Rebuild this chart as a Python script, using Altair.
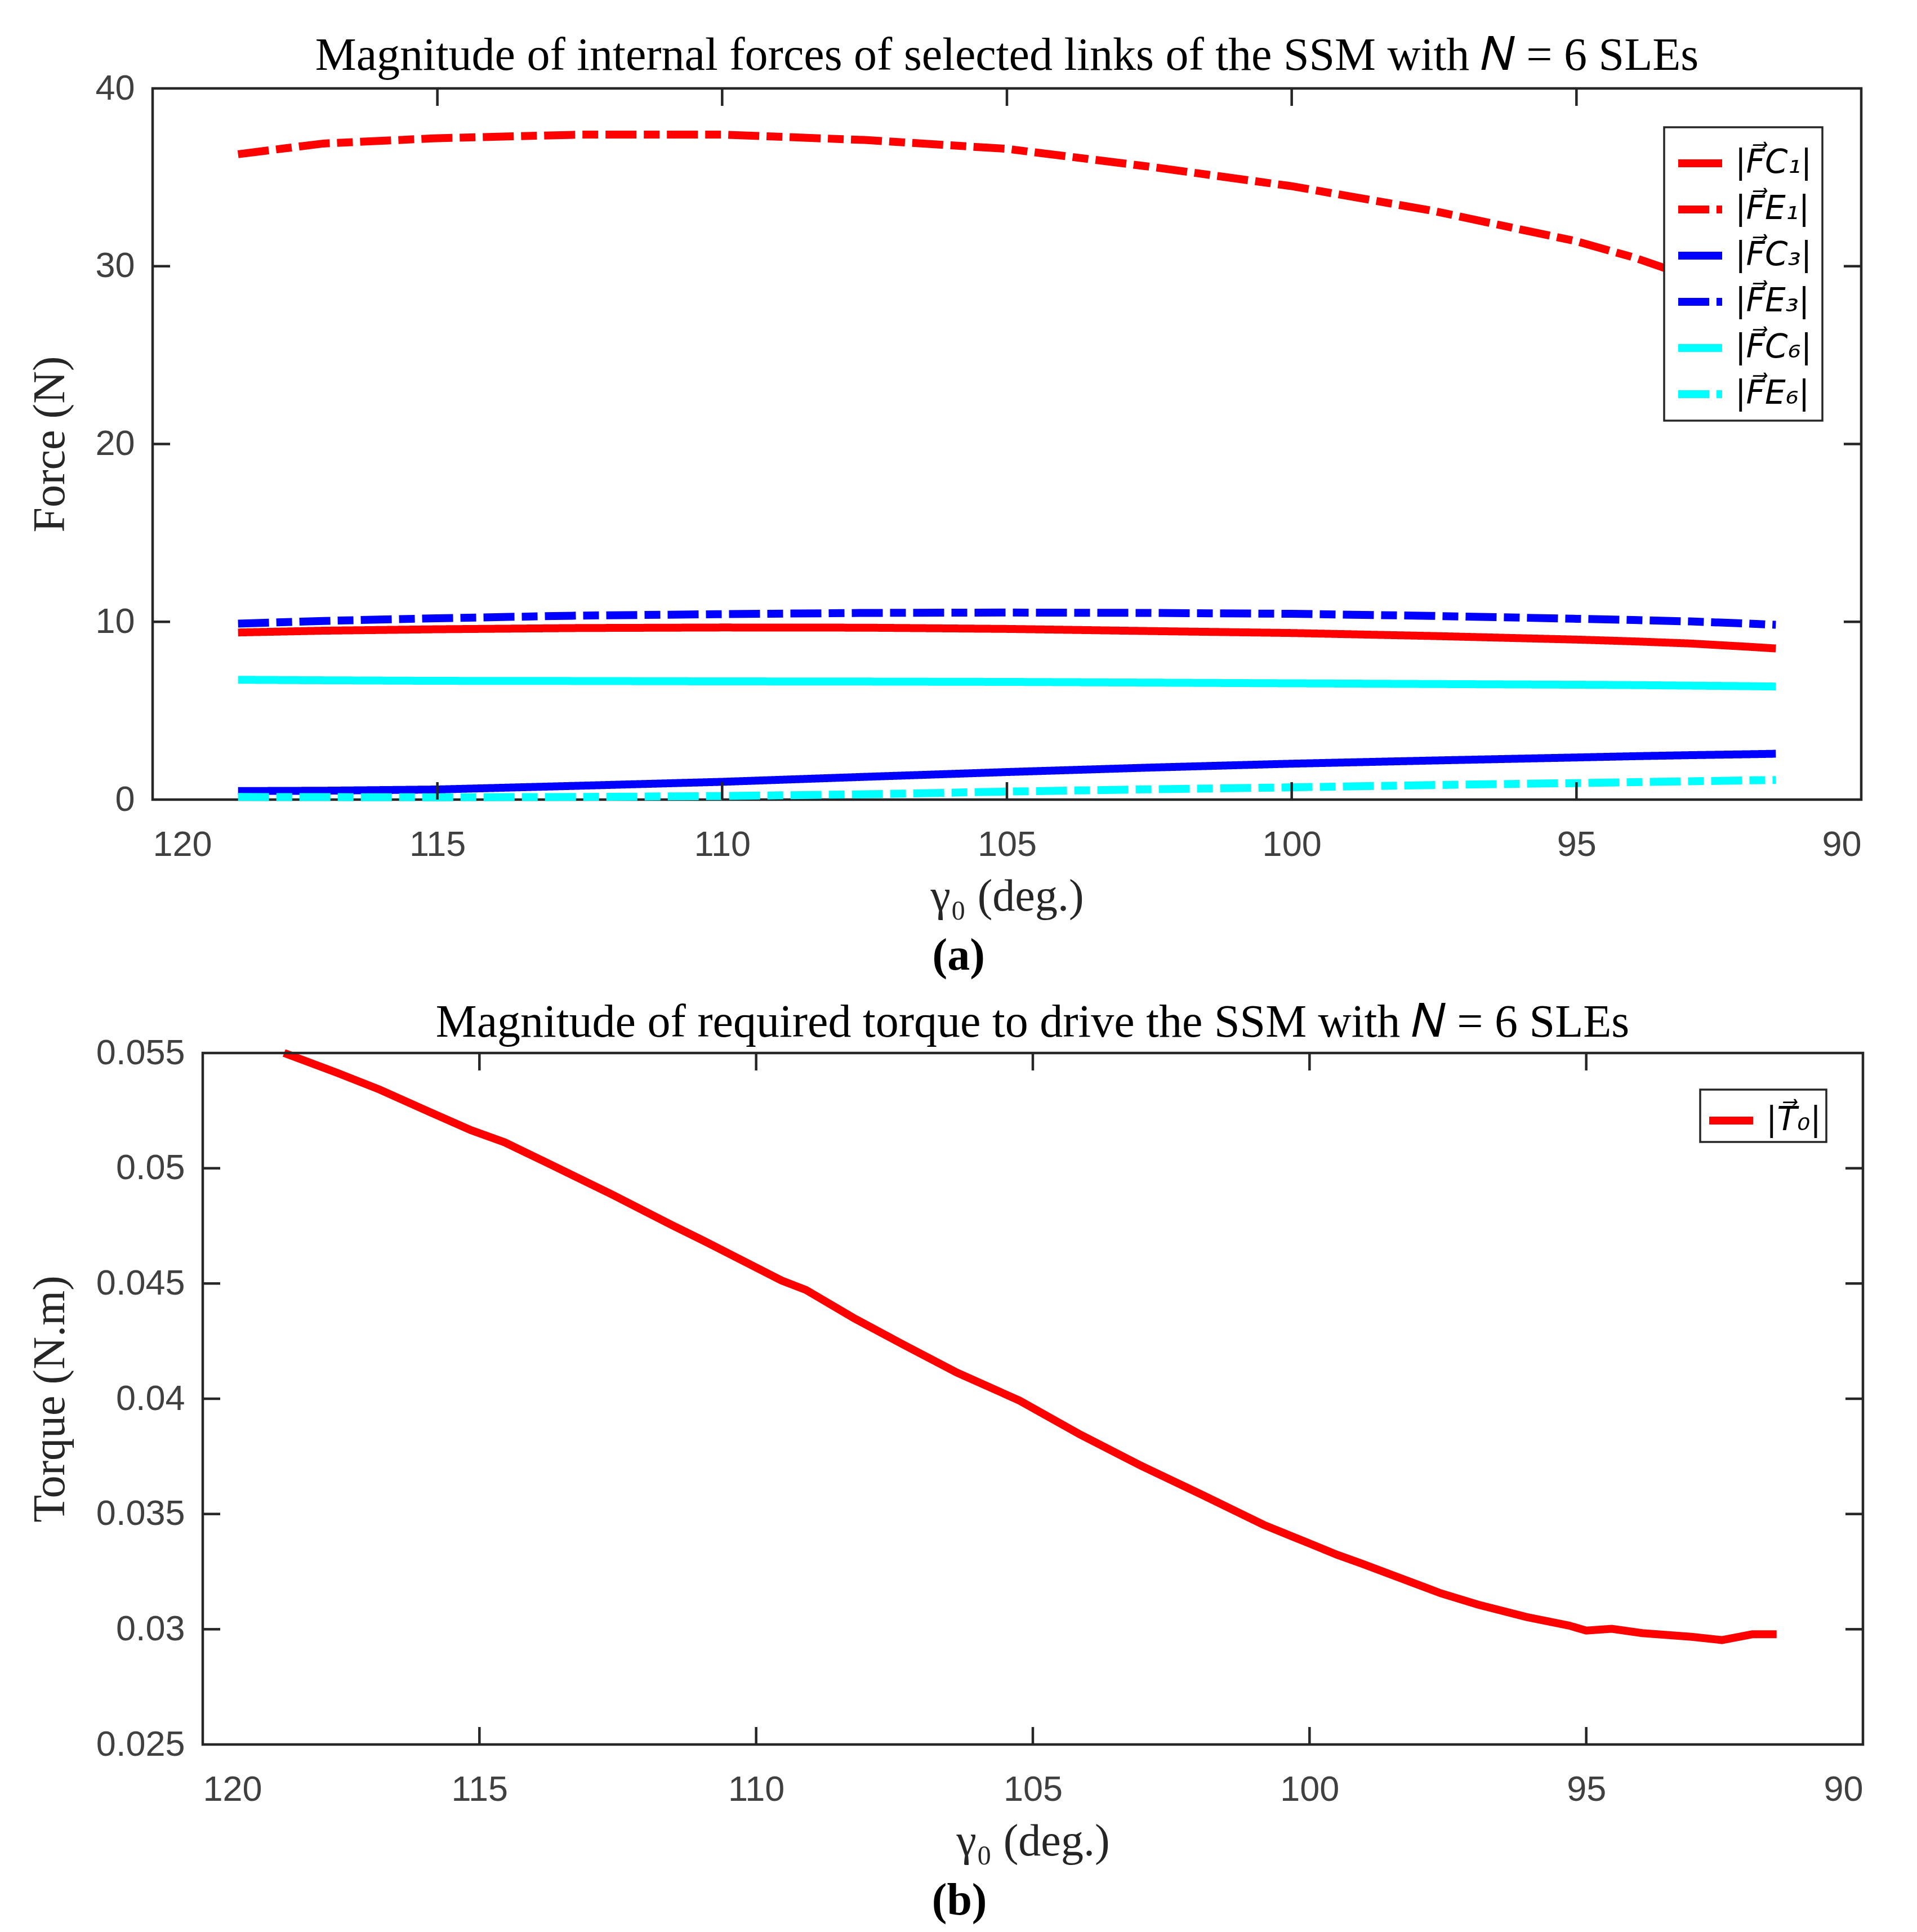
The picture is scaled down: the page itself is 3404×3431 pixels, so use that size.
import altair as alt
import pandas as pd

# ---------------- data ----------------
series_names = ["|F⃗C₁|", "|F⃗E₁|", "|F⃗C₃|", "|F⃗E₃|", "|F⃗C₆|", "|F⃗E₆|"]
series_colors = ["#ff0000", "#ff0000", "#0000ff", "#0000ff", "#00ffff", "#00ffff"]
series_dashes = [[1, 0], [55, 13, 28, 13], [1, 0], [55, 13, 28, 13], [1, 0], [55, 13, 28, 13]]

gamma_force = [118.5, 117, 115, 112.5, 110, 107.5, 105, 102.5, 100, 97.5, 95, 94, 93, 92, 91.5]
F_C1 = [9.40, 9.50, 9.58, 9.65, 9.68, 9.67, 9.60, 9.48, 9.37, 9.20, 9.00, 8.90, 8.78, 8.60, 8.50]
F_E1 = [36.3, 36.9, 37.2, 37.4, 37.4, 37.1, 36.6, 35.6, 34.5, 33.1, 31.4, 30.5, 29.4, 28.3, 27.8]
F_C3 = [0.48, 0.50, 0.57, 0.78, 1.00, 1.28, 1.55, 1.80, 2.02, 2.20, 2.37, 2.44, 2.50, 2.55, 2.58]
F_E3 = [9.90, 10.05, 10.20, 10.35, 10.43, 10.50, 10.52, 10.50, 10.45, 10.33, 10.17, 10.10, 10.02, 9.90, 9.83]
F_C6 = [6.74, 6.71, 6.68, 6.67, 6.65, 6.64, 6.62, 6.58, 6.54, 6.50, 6.46, 6.44, 6.41, 6.38, 6.36]
F_E6 = [0.15, 0.14, 0.13, 0.15, 0.20, 0.30, 0.45, 0.58, 0.69, 0.82, 0.93, 0.98, 1.03, 1.08, 1.10]

gamma_torque = [118.53, 117.57, 116.8, 115.92, 115.15, 114.54, 113.72, 112.62, 111.52, 110.97,
                109.54, 109.1, 108.22, 107.34, 106.37, 105.24, 104.14, 103.04, 101.93, 100.83,
                100.0, 99.5, 99.06, 98.07, 97.63, 96.96, 96.08, 95.31, 95.0, 94.54,
                93.99, 93.1, 92.55, 92.0, 91.56]
torque_T0 = [0.05500, 0.05414, 0.05341, 0.05246, 0.05165, 0.05112, 0.05017, 0.04888, 0.04753, 0.04688,
             0.04513, 0.04472, 0.04348, 0.04235, 0.04113, 0.03992, 0.03844, 0.03709, 0.03582, 0.03453,
             0.03372, 0.03323, 0.03285, 0.03196, 0.03156, 0.03107, 0.03053, 0.03016, 0.02994, 0.03002,
             0.02983, 0.02967, 0.02953, 0.02978, 0.02978]
torque_name = ["|T⃗₀|"]

x_ticks = [90, 95, 100, 105, 110, 115, 120]
x_inner_ticks = [95, 100, 105, 110, 115]
force_ticks = [0, 10, 20, 30, 40]
force_inner_ticks = [10, 20, 30]
torque_ticks = [0.025, 0.03, 0.035, 0.04, 0.045, 0.05, 0.055]
torque_inner_ticks = [0.03, 0.035, 0.04, 0.045, 0.05]

# ---------------- styling ----------------
AX = "#262626"
LW = 14
TICK = 31
WA, HA = 3034, 1263
WB, HB = 3037, 1228   # panel (b): its frame starts INSET px right of panel (a)'s frame
INSET = 89
SYM = 78

force_df = pd.concat([
    pd.DataFrame({"gamma": gamma_force, "force": vals, "series": name})
    for name, vals in zip(series_names, [F_C1, F_E1, F_C3, F_E3, F_C6, F_E6])
])
torque_df = pd.DataFrame({"gamma": gamma_torque, "torque": torque_T0, "series": torque_name[0]})

xscale = alt.Scale(domain=[90, 120], reverse=True, nice=False, zero=False)
xscale_b = alt.Scale(domain=[90, 120], reverse=True, nice=False, zero=False, range=[INSET, WB])
fscale = alt.Scale(domain=[0, 40], nice=False)
tscale = alt.Scale(domain=[0.025, 0.055], nice=False, zero=False)

legend_common = dict(
    title=None, orient="top-right", fillColor="white", strokeColor=AX,
    labelFont="DejaVu Sans", labelFontSize=58, labelFontStyle="italic", labelColor="black",
    symbolType="stroke", symbolSize=SYM * SYM, symbolStrokeWidth=LW,
    labelOffset=16, rowPadding=7, labelLimit=0,
)


def x_axis():
    return alt.Axis(values=x_ticks, format="d", title="γ₀ (deg.)",
                    labelPadding=49, minExtent=103, maxExtent=103, titlePadding=30)


# ---- top chart ----
lines_a = alt.Chart(force_df).mark_line(strokeWidth=LW, strokeCap="butt").encode(
    x=alt.X("gamma:Q", scale=xscale, axis=x_axis()),
    y=alt.Y("force:Q", scale=fscale,
            axis=alt.Axis(values=force_ticks, format="d", title="Force (N)", labelPadding=32,
                          minExtent=141, maxExtent=141, titlePadding=0)),
    color=alt.Color("series:N", sort=series_names,
                    scale=alt.Scale(domain=series_names, range=series_colors),
                    legend=alt.Legend(offset=69, padding=18, **legend_common)),
    strokeDash=alt.StrokeDash("series:N", sort=series_names,
                              scale=alt.Scale(domain=series_names, range=series_dashes),
                              legend=alt.Legend(offset=69, padding=18, **legend_common)),
    order=alt.Order("gamma:Q", sort="descending"),
)

xt_a = pd.DataFrame({"gamma": x_inner_ticks})
yt_a = pd.DataFrame({"force": force_inner_ticks})
tick_style = dict(color=AX, strokeWidth=4.5)
ticks_a = [
    alt.Chart(xt_a).mark_rule(**tick_style).encode(x=alt.X("gamma:Q", scale=xscale), y=alt.value(0), y2=alt.value(TICK)),
    alt.Chart(xt_a).mark_rule(**tick_style).encode(x=alt.X("gamma:Q", scale=xscale), y=alt.value(HA), y2=alt.value(HA - TICK)),
    alt.Chart(yt_a).mark_rule(**tick_style).encode(y=alt.Y("force:Q", scale=fscale), x=alt.value(0), x2=alt.value(TICK)),
    alt.Chart(yt_a).mark_rule(**tick_style).encode(y=alt.Y("force:Q", scale=fscale), x=alt.value(WA), x2=alt.value(WA - TICK)),
]

chart_a = alt.layer(lines_a, *ticks_a).properties(
    width=WA, height=HA,
    title=alt.TitleParams("Magnitude of internal forces of selected links of the SSM with 𝑁 = 6 SLEs",
                          baseline="alphabetic", offset=-80),
)

# ---- bottom chart ----
lines_b = alt.Chart(torque_df).mark_line(strokeWidth=LW, strokeCap="butt").encode(
    x=alt.X("gamma:Q", scale=xscale_b, axis=x_axis()),
    y=alt.Y("torque:Q", scale=tscale,
            axis=alt.Axis(values=torque_ticks, format="~g", title="Torque (N.m)", labelPadding=32,
                          offset=-INSET, minExtent=230, maxExtent=230, titlePadding=0)),
    color=alt.Color("series:N", scale=alt.Scale(domain=torque_name, range=["#ff0000"]),
                    legend=alt.Legend(offset=65, padding=9, **legend_common)),
    order=alt.Order("gamma:Q", sort="descending"),
)

xt_b = pd.DataFrame({"gamma": x_inner_ticks})
yt_b = pd.DataFrame({"torque": torque_inner_ticks})
frame_b = alt.Chart(pd.DataFrame({"frame": [0]})).mark_rect(
    filled=False, stroke=AX, strokeWidth=4.5
).encode(x=alt.value(INSET), x2=alt.value(WB), y=alt.value(0), y2=alt.value(HB))
ticks_b = [
    alt.Chart(xt_b).mark_rule(**tick_style).encode(x=alt.X("gamma:Q", scale=xscale_b), y=alt.value(0), y2=alt.value(TICK)),
    alt.Chart(xt_b).mark_rule(**tick_style).encode(x=alt.X("gamma:Q", scale=xscale_b), y=alt.value(HB), y2=alt.value(HB - TICK)),
    alt.Chart(yt_b).mark_rule(**tick_style).encode(y=alt.Y("torque:Q", scale=tscale), x=alt.value(INSET), x2=alt.value(INSET + TICK)),
    alt.Chart(yt_b).mark_rule(**tick_style).encode(y=alt.Y("torque:Q", scale=tscale), x=alt.value(WB), x2=alt.value(WB - TICK)),
    frame_b,
]

chart_b = alt.layer(lines_b, *ticks_b).properties(
    width=WB, height=HB,
    view={"stroke": "transparent"},
    title=alt.TitleParams("Magnitude of required torque to drive the SSM with 𝑁 = 6 SLEs",
                          baseline="alphabetic", offset=-84, dx=44),
)

cap = dict(orient="bottom", anchor="middle", font="Liberation Serif", fontSize=80,
           fontWeight="bold", color="black", offset=25, dx=24)
indep = dict(color="independent", strokeDash="independent")
wrap_a = alt.vconcat(chart_a, title=alt.TitleParams("(a)", **cap)).resolve_scale(**indep).resolve_legend(**indep)
wrap_b = alt.vconcat(chart_b, title=alt.TitleParams("(b)", **cap)).resolve_scale(**indep).resolve_legend(**indep)

chart = alt.vconcat(wrap_a, wrap_b, spacing=33).resolve_scale(x="independent", **indep).resolve_legend(**indep).properties(
    padding={"left": 38, "top": 47, "right": 5, "bottom": 5}
).configure_view(
    stroke=AX, strokeWidth=4.5
).configure_axis(
    grid=False, domain=False, ticks=False, tickSize=0,
    labelFont="Liberation Sans", labelFontSize=63, labelColor="#404040",
    titleFont="Liberation Serif", titleFontSize=80, titleFontWeight="normal", titleColor=AX,
).configure_title(
    font="Liberation Serif", fontSize=82, fontWeight="normal", color="black",
).configure_legend(
    strokeWidth=3.5,
)

chart.save("out.html", embed_options={"renderer": "svg", "actions": False})
